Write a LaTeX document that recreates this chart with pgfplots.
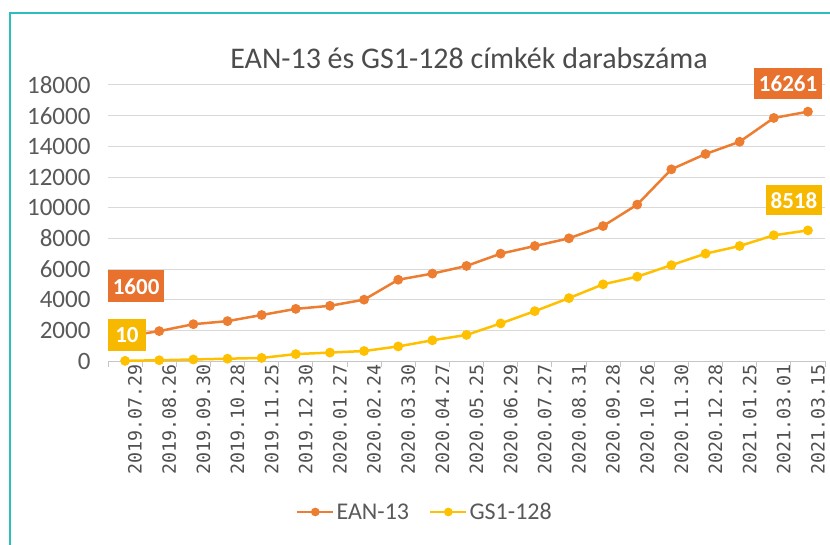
\documentclass[border=0pt]{standalone}
\usepackage{pgfplots}
\pgfplotsset{compat=1.18}
\usepackage{fontspec}
\setmainfont{Carlito}
\newfontfamily\monofont{DejaVu Sans Mono}
\definecolor{eanC}{HTML}{ED7D31}
\definecolor{gsC}{HTML}{FFC000}
\definecolor{eanBox}{HTML}{E8712D}
\definecolor{gsBox}{HTML}{F7B900}
\definecolor{txtC}{HTML}{595959}
\definecolor{gridC}{HTML}{D9D9D9}
\definecolor{frameC}{HTML}{2DBDBD}
\begin{document}
\begin{tikzpicture}
\useasboundingbox (0pt,0pt) rectangle (830pt,544pt);
\begin{scope}
\clip (0pt,0pt) rectangle (830pt,544pt);
\draw[frameC, line width=2.5pt] (10pt,531pt) rectangle (870pt,-30pt);
\end{scope}
\node[font=\fontsize{30}{33}\selectfont, text=txtC!85!black] at (469pt,486pt) {EAN-13 és GS1-128 címkék darabszáma};
\begin{axis}[
  at={(108pt,183pt)}, anchor=south west,
  scale only axis, width=717pt, height=276pt,
  xmin=-0.5, xmax=20.5, ymin=0, ymax=18000,
  axis x line*=bottom, axis y line*=left,
  x axis line style={-, draw=gray!45, line width=1pt},
  y axis line style={draw=none},
  ytick={0,2000,...,18000},
  scaled y ticks=false,
  ymajorgrids, grid style={gridC, line width=1pt},
  ytick style={draw=none},
  /pgf/number format/1000 sep={},
  /pgf/number format/assume math mode=true,
  yticklabel style={font=\fontsize{25}{28}\selectfont, text=txtC, xshift=-14pt},
  xtick={0,...,20},
  xticklabels={2019.07.29,2019.08.26,2019.09.30,2019.10.28,2019.11.25,2019.12.30,2020.01.27,2020.02.24,2020.03.30,2020.04.27,2020.05.25,2020.06.29,2020.07.27,2020.08.31,2020.09.28,2020.10.26,2020.11.30,2020.12.28,2021.01.25,2021.03.01,2021.03.15},
  xtick style={draw=none},
  xticklabel style={font=\monofont\fontsize{18.3}{20}\selectfont, text=txtC!90!black, rotate=90, anchor=east, yshift=-10pt},
  extra x ticks={-0.5,0.5,...,20.5},
  extra x tick labels={},
  extra x tick style={tick align=outside, major tick length=6pt, xtick style={draw=gray!45, line width=1pt}, grid=none},
  legend columns=2,
  legend style={at={(0.442,-0.547)}, anchor=center, draw=none, fill=none,
    font=\fontsize{24}{28}\selectfont, text=txtC,
    /tikz/every even column/.append style={column sep=18pt}},
  legend image code/.code={\draw[#1, mark repeat=2, mark phase=2, mark size=3pt] plot coordinates {(0pt,0pt) (18pt,0pt) (36pt,0pt)};},
  clip=false,
]
\addplot[eanC, line width=2.5pt, mark=*, mark size=3.6pt] coordinates {
(0,1600) (1,1950) (2,2400) (3,2600) (4,3000) (5,3400) (6,3600) (7,4000) (8,5300) (9,5700) (10,6200) (11,7000) (12,7500) (13,8000) (14,8800) (15,10200) (16,12500) (17,13500) (18,14300) (19,15850) (20,16261)};
\addlegendentry{EAN-13}
\addplot[gsC, line width=2.5pt, mark=*, mark size=3.6pt] coordinates {
(0,10) (1,50) (2,100) (3,150) (4,200) (5,450) (6,550) (7,650) (8,950) (9,1350) (10,1700) (11,2450) (12,3250) (13,4100) (14,5000) (15,5500) (16,6250) (17,7000) (18,7500) (19,8200) (20,8518)};
\addlegendentry{GS1-128}
\coordinate (eL) at (axis cs:20,16261);
\coordinate (gL) at (axis cs:20,8518);
\coordinate (eF) at (axis cs:0,1600);
\coordinate (gF) at (axis cs:0,10);
\end{axis}
\tikzset{lbl/.style={text=white, font=\bfseries\fontsize{23}{26}\selectfont, inner xsep=4.5pt, inner ysep=0pt, minimum height=31pt}}
\node[lbl, fill=eanBox, anchor=south east] at ([xshift=14pt, yshift=12pt]eL) {16261};
\node[lbl, fill=gsBox, anchor=south east, minimum height=30pt] at ([xshift=14pt, yshift=15pt]gL) {8518};
\node[lbl, fill=eanBox, anchor=south west, minimum height=32pt] at ([xshift=-17pt, yshift=34pt]eF) {1600};
\node[lbl, fill=gsBox, anchor=south west, inner xsep=7pt, minimum height=32pt] at ([xshift=-17pt, yshift=10pt]gF) {10};
\end{tikzpicture}
\end{document}
